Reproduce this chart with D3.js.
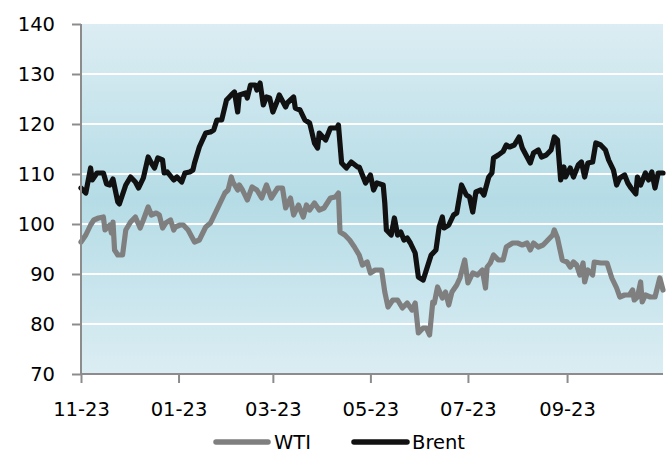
<!DOCTYPE html>
<html><head><meta charset="utf-8">
<script src="https://cdn.jsdelivr.net/npm/d3@7"></script>
<style>body{margin:0;background:#fff}svg{display:block}</style>
</head><body><svg id="c" width="670" height="453"></svg>
<script>
const seriesNames = ["WTI", "Brent"];
const yTicks = [70, 80, 90, 100, 110, 120, 130, 140];
const xTickDates = ["2021-11-01", "2022-01-01", "2022-03-01", "2022-05-01", "2022-07-01", "2022-09-01"];
const xTickLabels = ["11-23", "01-23", "03-23", "05-23", "07-23", "09-23"];

const brentDates = ["2021-11-01","2021-11-04","2021-11-07","2021-11-08","2021-11-11","2021-11-15","2021-11-17","2021-11-19","2021-11-21","2021-11-24","2021-11-25","2021-11-29","2021-12-02","2021-12-05","2021-12-07","2021-12-10","2021-12-13","2021-12-15","2021-12-17","2021-12-19","2021-12-22","2021-12-23","2021-12-25","2021-12-29","2021-12-31","2022-01-03","2022-01-05","2022-01-08","2022-01-10","2022-01-11","2022-01-14","2022-01-18","2022-01-21","2022-01-23","2022-01-25","2022-01-28","2022-01-31","2022-02-03","2022-02-05","2022-02-07","2022-02-08","2022-02-12","2022-02-13","2022-02-15","2022-02-18","2022-02-19","2022-02-21","2022-02-23","2022-02-25","2022-02-27","2022-03-01","2022-03-04","2022-03-05","2022-03-09","2022-03-10","2022-03-14","2022-03-15","2022-03-18","2022-03-21","2022-03-24","2022-03-27","2022-03-29","2022-03-30","2022-04-03","2022-04-06","2022-04-10","2022-04-11","2022-04-13","2022-04-16","2022-04-19","2022-04-23","2022-04-24","2022-04-28","2022-05-01","2022-05-03","2022-05-05","2022-05-09","2022-05-10","2022-05-11","2022-05-14","2022-05-16","2022-05-18","2022-05-20","2022-05-22","2022-05-24","2022-05-26","2022-05-29","2022-05-31","2022-06-03","2022-06-05","2022-06-08","2022-06-11","2022-06-13","2022-06-15","2022-06-16","2022-06-19","2022-06-22","2022-06-24","2022-06-27","2022-06-30","2022-07-02","2022-07-04","2022-07-06","2022-07-09","2022-07-11","2022-07-14","2022-07-16","2022-07-17","2022-07-20","2022-07-23","2022-07-25","2022-07-27","2022-07-30","2022-08-02","2022-08-04","2022-08-08","2022-08-09","2022-08-11","2022-08-14","2022-08-16","2022-08-19","2022-08-22","2022-08-24","2022-08-26","2022-08-28","2022-08-30","2022-08-31","2022-09-03","2022-09-05","2022-09-08","2022-09-10","2022-09-12","2022-09-14","2022-09-17","2022-09-19","2022-09-22","2022-09-25","2022-09-27","2022-09-30","2022-10-02","2022-10-04","2022-10-07","2022-10-09","2022-10-11","2022-10-14","2022-10-15","2022-10-17","2022-10-20","2022-10-22","2022-10-24","2022-10-26","2022-10-28","2022-10-31"];
const brentValues = [107.2,106.2,111.2,108.8,110.2,110.2,108,107.8,109,104.4,104,107.8,109.4,108.4,107.2,109.2,113.4,112.2,111.2,113.2,112.8,110.2,110.4,108.8,109.4,108.4,110.2,110.4,110.8,112.2,115.4,118.2,118.4,118.8,120.8,120.8,124.8,125.8,126.4,122.4,125.8,126.2,125.2,127.8,127.8,126.8,128.2,123.8,125.4,125.2,122.4,124.8,125.8,123.4,124.2,125.4,123.2,122.8,120.8,120.2,116.2,115.2,118.2,116.8,119.2,119.2,119.8,112.2,111.2,112.4,111.4,111.4,108.2,109.8,106.8,108.2,107.8,104.2,98.8,97.8,101.2,97.8,98.4,96.8,97.2,96.2,94.2,89.4,88.8,90.8,93.8,94.8,99.4,101.4,99.2,99.8,101.8,102.2,107.8,105.8,105.4,102.4,106.4,106.8,105.8,109.4,110.2,113.2,113.8,114.5,115.8,115.4,115.8,117.4,115.2,112.8,112.2,114.2,114.8,113.4,113.8,114.8,117.4,116.8,108.8,111.4,109.4,111.2,109.4,111.8,112.4,109.4,112.2,112.4,116.2,115.8,114.8,112.8,110.8,107.8,109.2,109.8,108.2,107.2,106,109.4,107.8,110.2,108.8,110.4,107.2,110.2,110.2];

const wtiDates = ["2021-11-01","2021-11-04","2021-11-07","2021-11-09","2021-11-12","2021-11-15","2021-11-16","2021-11-19","2021-11-20","2021-11-21","2021-11-22","2021-11-24","2021-11-27","2021-11-29","2021-12-02","2021-12-05","2021-12-08","2021-12-10","2021-12-13","2021-12-15","2021-12-18","2021-12-20","2021-12-22","2021-12-24","2021-12-27","2021-12-29","2021-12-30","2022-01-02","2022-01-04","2022-01-07","2022-01-11","2022-01-14","2022-01-18","2022-01-21","2022-01-24","2022-01-27","2022-01-30","2022-02-01","2022-02-03","2022-02-04","2022-02-07","2022-02-08","2022-02-10","2022-02-13","2022-02-16","2022-02-19","2022-02-22","2022-02-25","2022-02-28","2022-03-04","2022-03-07","2022-03-09","2022-03-12","2022-03-14","2022-03-17","2022-03-20","2022-03-22","2022-03-24","2022-03-27","2022-03-30","2022-04-02","2022-04-04","2022-04-06","2022-04-09","2022-04-11","2022-04-12","2022-04-15","2022-04-18","2022-04-21","2022-04-24","2022-04-26","2022-04-29","2022-05-01","2022-05-04","2022-05-08","2022-05-10","2022-05-12","2022-05-15","2022-05-18","2022-05-21","2022-05-24","2022-05-27","2022-05-29","2022-05-31","2022-06-03","2022-06-05","2022-06-07","2022-06-09","2022-06-10","2022-06-12","2022-06-15","2022-06-17","2022-06-19","2022-06-21","2022-06-24","2022-06-26","2022-06-29","2022-07-01","2022-07-04","2022-07-07","2022-07-10","2022-07-12","2022-07-13","2022-07-15","2022-07-17","2022-07-20","2022-07-23","2022-07-25","2022-07-29","2022-08-01","2022-08-04","2022-08-07","2022-08-09","2022-08-11","2022-08-14","2022-08-17","2022-08-20","2022-08-23","2022-08-24","2022-08-26","2022-08-29","2022-09-01","2022-09-03","2022-09-05","2022-09-07","2022-09-09","2022-09-11","2022-09-12","2022-09-14","2022-09-17","2022-09-18","2022-09-22","2022-09-26","2022-09-29","2022-10-02","2022-10-04","2022-10-07","2022-10-10","2022-10-12","2022-10-13","2022-10-15","2022-10-17","2022-10-18","2022-10-20","2022-10-23","2022-10-26","2022-10-29","2022-10-31"];
const wtiValues = [96.4,97.8,99.8,100.8,101.2,101.4,98.8,99.8,98.2,100.4,94.8,93.8,93.8,98.8,100.4,101.4,99.2,100.8,103.4,101.8,102.2,101.8,99.2,100.2,100.8,98.8,99.4,99.8,99.8,98.8,96.4,96.8,99.4,100.2,102.2,104.2,106.2,106.8,109.4,108.4,106.8,107.8,106.8,104.8,107.4,106.8,105.2,107.8,105.2,107.2,107.2,103.2,105.2,101.8,103.8,101.4,103.8,102.8,104.2,102.8,103.2,104.2,105.2,105.4,106.2,98.4,97.8,96.8,95.4,93.8,91.8,92.4,90.2,90.8,90.8,86.4,83.4,84.8,84.8,83.2,84.2,82.8,84.2,78.2,79.2,79.2,77.8,84.4,84.2,87.4,85.2,86.4,83.8,86.4,87.8,89.2,92.8,88.2,90.2,89.8,90.8,87.2,91.4,92.2,93.8,92.8,92.8,95.4,96.2,96.2,95.8,96.2,94.8,96.2,95.4,95.8,96.8,97.8,98.8,97.2,92.8,92.4,91.4,92.4,91.8,89.8,92.2,88.4,90.8,89.8,92.4,92.2,92.2,89.2,87.2,85.4,85.8,85.8,86.8,84.8,85.4,88.4,84.4,85.8,85.4,85.4,89.2,86.8];

const parse = d3.timeParse("%Y-%m-%d");
const svg = d3.select("#c");
const m = {l: 81, r: 663, t: 24, b: 374};
const x = d3.scaleTime().domain([parse("2021-11-01"), parse("2022-10-31")]).range([m.l, m.r]);
const y = d3.scaleLinear().domain([70, 140]).range([m.b, m.t]);
const font = "'DejaVu Sans', sans-serif";

const defs = svg.append("defs");
const g = defs.append("linearGradient").attr("id", "bg").attr("x1", 0).attr("y1", 0).attr("x2", 0).attr("y2", 1);
g.append("stop").attr("offset", "0%").attr("stop-color", "#dcedf3");
g.append("stop").attr("offset", "50%").attr("stop-color", "#b5dce6");
g.append("stop").attr("offset", "100%").attr("stop-color", "#dbedf3");

svg.append("rect").attr("x", m.l).attr("y", m.t).attr("width", m.r - m.l).attr("height", m.b - m.t).attr("fill", "url(#bg)");

svg.append("g").selectAll("line").data(yTicks.filter(v => v > 70 && v < 140)).join("line")
  .attr("x1", m.l).attr("x2", m.r).attr("y1", d => y(d)).attr("y2", d => y(d))
  .attr("stroke", "#fff").attr("stroke-width", 2);

const line = d3.line().x(d => x(d[0])).y(d => y(d[1])).curve(d3.curveLinear);
const wti = wtiDates.map((d, i) => [parse(d), wtiValues[i]]);
const brent = brentDates.map((d, i) => [parse(d), brentValues[i]]);
svg.append("path").datum(wti).attr("d", line).attr("fill", "none").attr("stroke", "#7f7f7f")
  .attr("stroke-width", 5.2).attr("stroke-linejoin", "round").attr("stroke-linecap", "round");
svg.append("path").datum(brent).attr("d", line).attr("fill", "none").attr("stroke", "#111")
  .attr("stroke-width", 5.2).attr("stroke-linejoin", "round").attr("stroke-linecap", "round");

const yAxis = svg.append("g").attr("transform", `translate(${m.l},0)`)
  .call(d3.axisLeft(y).tickValues(yTicks).tickSize(9).tickPadding(17).tickFormat(d3.format("d")));
const xAxis = svg.append("g").attr("transform", `translate(0,${m.b})`)
  .call(d3.axisBottom(x).tickValues(xTickDates.map(parse)).tickSize(9).tickPadding(19)
    .tickFormat((d, i) => xTickLabels[i]));
[yAxis, xAxis].forEach(a => {
  a.select(".domain").attr("stroke", "#8c8c8c").attr("stroke-width", 2);
  a.selectAll(".tick line").attr("stroke", "#8c8c8c").attr("stroke-width", 2);
  a.selectAll("text").attr("fill", "#000").style("font-family", font).style("font-size", "19.5px");
});
xAxis.select(".domain").attr("d", `M${m.l},0H${m.r}`);
yAxis.select(".domain").attr("d", `M0,${m.b}V${m.t}`);

const legend = svg.append("g");
const items = [{name: seriesNames[0], color: "#7f7f7f", x0: 216, x1: 268, tx: 274},
               {name: seriesNames[1], color: "#111", x0: 354, x1: 407, tx: 412}];
items.forEach(it => {
  legend.append("line").attr("x1", it.x0).attr("x2", it.x1).attr("y1", 442).attr("y2", 442)
    .attr("stroke", it.color).attr("stroke-width", 5.5).attr("stroke-linecap", "round");
  legend.append("text").attr("x", it.tx).attr("y", 449).text(it.name)
    .style("font-family", font).style("font-size", "19.5px").attr("fill", "#000");
});
</script></body></html>
